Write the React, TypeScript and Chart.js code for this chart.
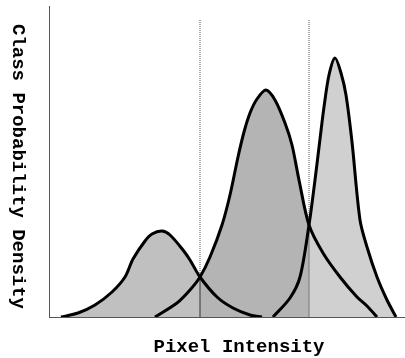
import React, { useEffect, useRef } from "react";
import { Chart, registerables } from "chart.js";

Chart.register(...registerables);

// Class 1 (dark objects)
const class1Intensity = [12, 29, 46, 63, 76, 84, 96, 103, 113, 121, 134, 141, 151, 168, 184, 201, 213];
const class1Density = [0, 4, 12, 25, 40, 58, 76, 83, 86, 82, 67, 57, 40, 20, 9, 2, 0];

// Class 2 (mid objects)
const class2Intensity = [106, 128, 141, 151, 161, 173, 181, 189, 195, 201, 208, 217, 226, 236, 243, 250, 260, 274, 291, 308, 318, 328];
const class2Density = [0, 14, 27, 40, 60, 92, 122, 160, 185, 204, 218, 227, 217, 194, 172, 137, 92, 64, 40, 20, 11, 0];

// Class 3 (bright objects)
const class3Intensity = [224, 241, 251, 260, 266, 271, 275, 280, 286, 292, 297, 303, 311, 318, 328, 338, 347];
const class3Density = [0, 19, 40, 92, 137, 178, 210, 242, 259, 244, 222, 175, 97, 70, 40, 17, 0];

// Decision thresholds and where each crosses the curves
const thresholds = [151, 260];
const thresholdCross = [40, 92];
const thresholdTop = 297;

const xTitle = "Pixel Intensity";
const yTitle = "Class Probability Density";

const regionColors = ["#c0c0c0", "#b4b4b4", "#d0d0d0"];

function regionColor(x: number) {
  if (x < thresholds[0]) return regionColors[0];
  if (x < thresholds[1]) return regionColors[1];
  return regionColors[2];
}

function pts(xs: number[], ys: number[]) {
  return xs.map((x, i) => ({ x, y: ys[i] }));
}

const titlesPlugin = {
  id: "customTitles",
  afterDraw(chart: any) {
    const { ctx, chartArea } = chart;
    ctx.save();
    ctx.fillStyle = "#000";
    ctx.font = "bold 19px 'Liberation Mono', monospace";
    ctx.textAlign = "center";
    ctx.textBaseline = "alphabetic";
    ctx.fillText(xTitle, 239, 352);
    ctx.translate(13, (chartArea.top + chartArea.bottom) / 2 + 5);
    ctx.rotate(Math.PI / 2);
    ctx.fillText(yTitle, 0, 0);
    ctx.restore();
  },
};

export default function App() {
  const ref = useRef<HTMLCanvasElement>(null);
  useEffect(() => {
    document.body.style.margin = "0";
    if (!ref.current) return;
    const curveCommon = {
      borderColor: "#000",
      borderWidth: 3,
      pointRadius: 0,
      fill: "origin",
      tension: 0.3,
      segment: {
        backgroundColor: (c: any) => regionColor((c.p0.parsed.x + c.p1.parsed.x) / 2),
      },
    };
    const thresholdDatasets = thresholds.map((t, i) => ({
      data: [
        { x: t, y: 0 },
        { x: t, y: thresholdCross[i] },
        { x: t, y: thresholdTop },
      ],
      borderColor: i === 0 ? "#333" : "#777",
      borderWidth: 1,
      pointRadius: 0,
      fill: false,
      tension: 0,
      segment: {
        borderDash: (c: any) => (c.p0DataIndex === 0 ? undefined : [1, 1]),
        borderColor: (c: any) => (c.p0DataIndex === 0 ? (i === 0 ? "#333" : "#777") : "#555"),
      },
    }));
    const chart = new Chart(ref.current, {
      type: "line",
      data: {
        datasets: [
          { ...curveCommon, data: pts(class1Intensity, class1Density) },
          { ...curveCommon, data: pts(class2Intensity, class2Density) },
          { ...curveCommon, data: pts(class3Intensity, class3Density) },
          ...thresholdDatasets,
        ] as any,
      },
      options: {
        responsive: false,
        animation: false,
        layout: { padding: { left: 49, top: 6, right: 0, bottom: 41 } },
        plugins: {
          legend: { display: false },
          tooltip: { enabled: false },
          filler: { drawTime: "beforeDatasetsDraw" },
        } as any,
        scales: {
          x: {
            type: "linear",
            min: 0,
            max: 356,
            grid: { display: false, drawTicks: false },
            ticks: { display: false },
            border: { display: true, color: "#555", width: 1 },
            afterFit: (s: any) => {
              s.height = 0;
            },
          },
          y: {
            type: "linear",
            min: 0,
            max: 311,
            grid: { display: false, drawTicks: false },
            ticks: { display: false },
            border: { display: true, color: "#555", width: 1 },
            afterFit: (s: any) => {
              s.width = 0;
            },
          },
        },
      },
      plugins: [titlesPlugin],
    });
    return () => chart.destroy();
  }, []);
  return (
    <div style={{ width: 405, height: 358 }}>
      <canvas ref={ref} width={405} height={358} />
    </div>
  );
}
